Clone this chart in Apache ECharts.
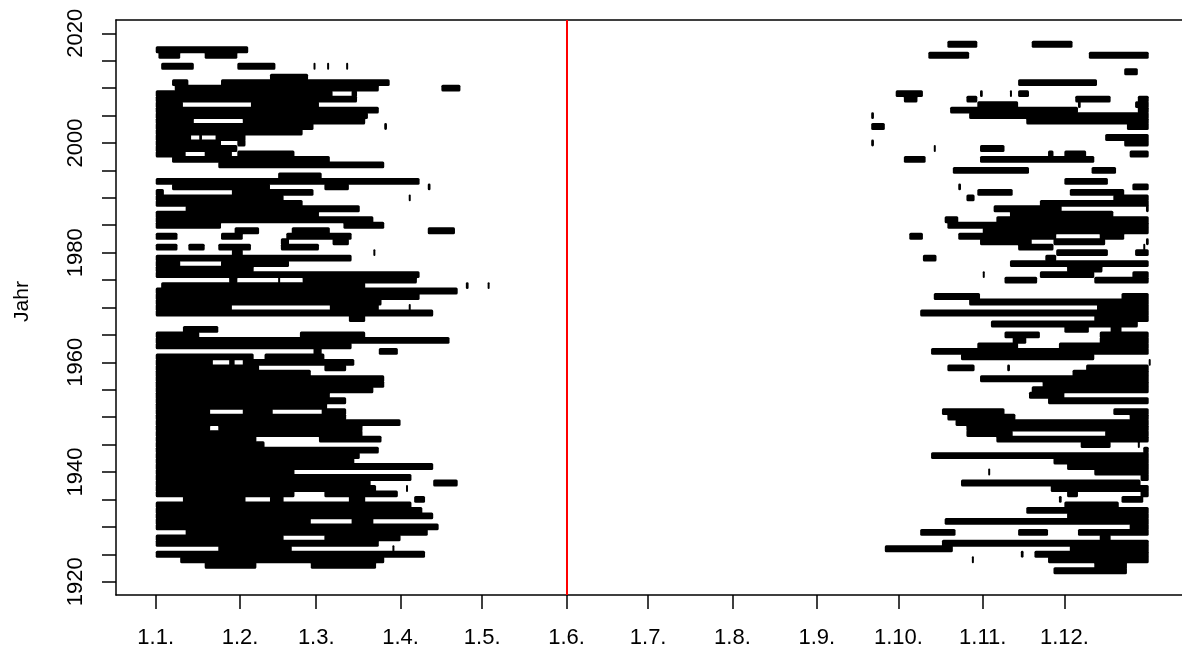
<!DOCTYPE html>
<html>
<head>
<meta charset="utf-8">
<script src="https://cdn.jsdelivr.net/npm/echarts@6/dist/echarts.min.js"></script>
<style>
html,body{margin:0;padding:0;background:#fff;}
#chart{width:1182px;height:654px;}
</style>
</head>
<body>
<div id="chart"></div>
<script>
// Years (rows), top to bottom
const years = [2018,2017,2016,2015,2014,2013,2012,2011,2010,2009,2008,2007,2006,2005,2004,2003,2002,2001,2000,1999,1998,1997,1996,1995,1994,1993,1992,1991,1990,1989,1988,1987,1986,1985,1984,1983,1982,1981,1980,1979,1978,1977,1976,1975,1974,1973,1972,1971,1970,1969,1968,1967,1966,1965,1964,1963,1962,1961,1960,1959,1958,1957,1956,1955,1954,1953,1952,1951,1950,1949,1948,1947,1946,1945,1944,1943,1942,1941,1940,1939,1938,1937,1936,1935,1934,1933,1932,1931,1930,1929,1928,1927,1926,1925,1924,1923,1922];

// Spells in the first half of the year (day-of-year from/to), one list per year
const springSpells = [
 [],
 [[1,35]],
 [[2,10],[19,31]],
 [],
 [[3,15],[31,45],[59,59],[64,64],[71,71]],
 [],
 [[43,57]],
 [[7,13],[25,87]],
 [[8,83],[106,113]],
 [[1,66],[73,75]],
 [[1,75]],
 [[1,11],[36,61]],
 [[1,83]],
 [[1,79]],
 [[1,15],[33,78]],
 [[1,59],[85,86]],
 [[1,55]],
 [[1,14],[17,18],[23,34]],
 [[1,25],[31,34]],
 [[1,31]],
 [[1,12],[19,29],[31,52]],
 [[7,65]],
 [[24,85]],
 [],
 [[46,62]],
 [[1,98]],
 [[7,43],[63,72],[101,102]],
 [[1,4],[29,59]],
 [[1,48],[94,94]],
 [[1,55]],
 [[12,76]],
 [[1,61]],
 [[1,81]],
 [[1,25],[70,85]],
 [[30,39],[51,65],[101,111]],
 [[1,9],[25,33],[49,73]],
 [[47,50],[66,72]],
 [[1,9],[13,19],[24,36],[47,61]],
 [[29,33],[81,81]],
 [[1,73]],
 [[1,10],[25,50]],
 [[1,37]],
 [[1,98]],
 [[28,31],[46,46],[55,97]],
 [[3,78],[115,116],[123,123]],
 [[1,112]],
 [[1,98]],
 [[1,84]],
 [[1,29],[65,83],[94,94]],
 [[1,103]],
 [[72,78]],
 [],
 [[11,24]],
 [[1,17],[54,78]],
 [[1,109]],
 [[1,73]],
 [[59,62],[83,90]],
 [[1,37],[41,63]],
 [[1,22],[28,30],[33,74]],
 [[1,39],[63,71]],
 [[1,58]],
 [[1,85]],
 [[1,85]],
 [[1,81]],
 [[1,65]],
 [[1,71]],
 [[1,64]],
 [[1,21],[33,44],[62,71]],
 [[1,71]],
 [[1,91]],
 [[1,21],[24,77]],
 [[1,77]],
 [[1,38],[61,84]],
 [[1,41]],
 [[1,83]],
 [[1,76]],
 [[1,74]],
 [[1,103]],
 [[1,52]],
 [[1,95]],
 [[1,80],[103,112]],
 [[1,82],[93,93]],
 [[1,52],[63,90]],
 [[11,34],[43,48],[72,78],[96,100]],
 [[1,95]],
 [[1,99]],
 [[1,103]],
 [[1,58],[73,81]],
 [[1,105]],
 [[12,101]],
 [[1,48],[63,91]],
 [[1,83]],
 [[24,51],[88,88]],
 [[1,100]],
 [[10,85]],
 [[19,38],[58,82]],
 []
];

// Spells at the end of the year (day-of-year from/to), one list per year
const autumnSpells = [
 [[292,303],[323,338]],
 [],
 [[285,300],[344,366]],
 [],
 [],
 [[357,362]],
 [],
 [[318,347]],
 [],
 [[273,283],[304,305],[315,315],[318,322]],
 [[276,281],[299,303],[339,352],[362,366]],
 [[303,318],[340,341],[361,366]],
 [[293,340],[362,366]],
 [[264,265],[300,366]],
 [[321,366]],
 [[264,269],[358,366]],
 [],
 [[350,366]],
 [[264,265],[357,366]],
 [[287,287],[304,313]],
 [[329,331],[335,343],[359,366]],
 [[276,284],[304,346]],
 [],
 [[294,322],[345,354]],
 [],
 [[335,351]],
 [[296,297],[360,366]],
 [[303,316],[337,357]],
 [[299,302],[353,366]],
 [[326,366]],
 [[309,334],[365,366]],
 [[315,353]],
 [[291,296],[310,366]],
 [[292,366]],
 [[305,366]],
 [[278,283],[296,332],[348,357]],
 [[304,323],[331,350],[365,366]],
 [[318,331],[364,364]],
 [[332,351],[361,366]],
 [[283,288],[328,332]],
 [[315,366]],
 [[336,349]],
 [[305,305],[326,346],[360,366]],
 [[313,325],[346,366]],
 [],
 [],
 [[287,304],[356,366]],
 [[300,366]],
 [[347,366]],
 [[282,366]],
 [[346,366]],
 [[308,362]],
 [[335,344],[352,356]],
 [[313,326],[348,366]],
 [[316,321],[348,366]],
 [[303,318],[333,366]],
 [[286,366]],
 [[297,346]],
 [[366,366]],
 [[292,302],[314,315],[343,366]],
 [[338,366]],
 [[304,366]],
 [[327,366]],
 [[323,366]],
 [[322,335]],
 [[329,366]],
 [],
 [[290,313],[353,366]],
 [[292,317],[359,366]],
 [[295,366]],
 [[299,366]],
 [[299,316],[350,366]],
 [[310,366]],
 [[341,352],[362,362]],
 [[364,366]],
 [[286,366]],
 [[331,366]],
 [[336,366]],
 [[307,307],[346,366]],
 [[363,366]],
 [[297,363]],
 [[330,366]],
 [[336,340],[363,366]],
 [[333,334],[356,364]],
 [[335,355]],
 [[321,366]],
 [[336,366]],
 [[291,366]],
 [[359,366]],
 [[282,295],[318,329],[340,366]],
 [[348,352]],
 [[290,366]],
 [[269,294],[337,366]],
 [[319,320],[324,366]],
 [[301,301],[329,366]],
 [[346,358]],
 [[331,358]]
];

// Axis ticks and labels
const monthStarts = [1,32,60,91,121,152,182,213,244,274,305,335];
const monthLabels = ['1.1.','1.2.','1.3.','1.4.','1.5.','1.6.','1.7.','1.8.','1.9.','1.10.','1.11.','1.12.'];
const yearTicks = [1920,1925,1930,1935,1940,1945,1950,1955,1960,1965,1970,1975,1980,1985,1990,1995,2000,2005,2010,2015,2020];
const yearLabels = [1920,1940,1960,1980,2000,2020];
const markerDay = 152; // 1.6.

const spellData = [];
years.forEach((y, i) => {
  springSpells[i].forEach(s => spellData.push([s[0], s[1], y]));
  autumnSpells[i].forEach(s => spellData.push([s[0], s[1], y]));
});

const chart = echarts.init(document.getElementById('chart'), null, {renderer: 'canvas'});
const font = 'Liberation Sans, Arial, Helvetica, sans-serif';
const axisLineStyle = {color: '#000', width: 1.5};
const xMin = -13.6, xMax = 378.24, yMin = 1917.57, yMax = 2022.43;

chart.setOption({
  animation: false,
  backgroundColor: '#fff',
  grid: {left: 116, right: 0, top: 20, bottom: 59, show: false},
  xAxis: [{
    type: 'value', min: xMin, max: xMax, position: 'bottom',
    axisLine: {show: true, onZero: false, lineStyle: axisLineStyle},
    splitLine: {show: false},
    axisTick: {show: true, length: 14, inside: false, customValues: monthStarts, lineStyle: axisLineStyle},
    axisLabel: {
      customValues: monthStarts, margin: 32, fontSize: 22, color: '#000', fontFamily: font,
      formatter: v => monthLabels[monthStarts.indexOf(Math.round(v))] || ''
    }
  }, {
    type: 'value', min: xMin, max: xMax, position: 'top',
    axisLine: {show: true, onZero: false, lineStyle: axisLineStyle},
    splitLine: {show: false}, axisTick: {show: false}, axisLabel: {show: false}
  }],
  yAxis: {
    type: 'value', min: yMin, max: yMax,
    name: 'Jahr', nameLocation: 'middle', nameGap: 83,
    nameTextStyle: {fontSize: 21, color: '#000', fontFamily: font, padding: [0, 0, 0, 12]},
    axisLine: {show: true, onZero: false, lineStyle: axisLineStyle},
    splitLine: {show: false},
    axisTick: {show: true, length: 14, inside: false, customValues: yearTicks, lineStyle: axisLineStyle},
    axisLabel: {customValues: yearLabels, rotate: 90, margin: 29, fontSize: 22, color: '#000', fontFamily: font,
      formatter: v => String(Math.round(v))}
  },
  series: [{
    type: 'custom',
    clip: true,
    xAxisIndex: 0,
    data: spellData,
    renderItem: function (params, api) {
      const y = api.value(2);
      const s = api.coord([api.value(0), y]);
      const e = api.coord([api.value(1), y]);
      const h = api.size([0, 1])[1] * 1.25;
      const w = Math.max(e[0] - s[0], 2);
      return {
        type: 'rect',
        shape: {x: s[0], y: s[1] - h / 2, width: w, height: h, r: 1.5},
        style: {fill: '#000'}
      };
    },
    markLine: {
      silent: true,
      symbol: ['none', 'none'],
      label: {show: false},
      lineStyle: {color: '#FF0000', width: 2, type: 'solid'},
      data: [{xAxis: markerDay}]
    }
  }]
});
</script>
</body>
</html>
